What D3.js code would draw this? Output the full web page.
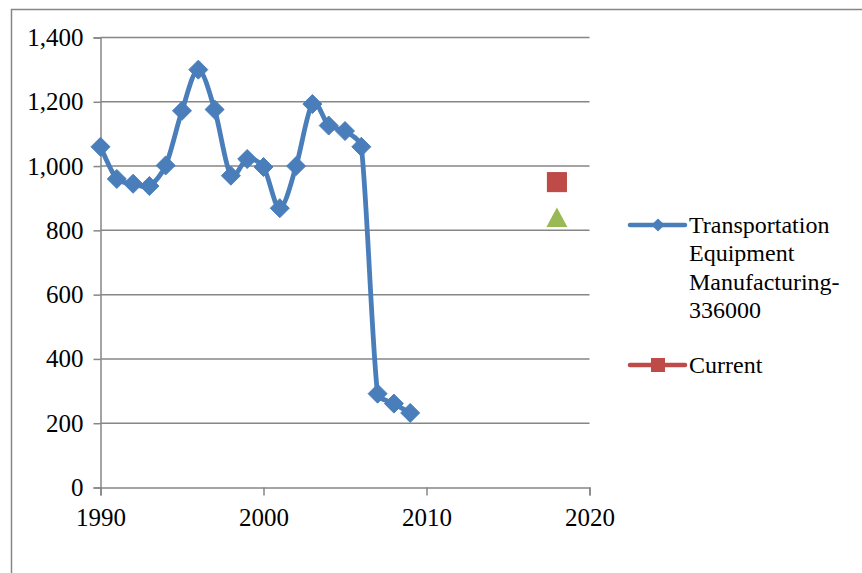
<!DOCTYPE html>
<html>
<head>
<meta charset="utf-8">
<script src="https://cdn.jsdelivr.net/npm/d3@7"></script>
<style>
  html, body { margin: 0; padding: 0; background: #fff; }
  svg { display: block; }
</style>
</head>
<body>
<svg id="chart" width="862" height="573"></svg>
<script>
// Annual employment series (index) and the current reference points
const years = [1990, 1991, 1992, 1993, 1994, 1995, 1996, 1997, 1998, 1999,
               2000, 2001, 2002, 2003, 2004, 2005, 2006, 2007, 2008, 2009];
const transportValues = [1060, 960, 945, 938, 1002, 1172, 1300, 1176, 970, 1022,
                         997, 869, 1000, 1193, 1126, 1109, 1060, 292, 261, 232];
const currentPoint = [{ year: 2018, value: 950 }];
const targetPoint = [{ year: 2018, value: 840 }];
const xTicks = [1990, 2000, 2010, 2020];
const yTicks = [0, 200, 400, 600, 800, 1000, 1200, 1400];
const legendLabels = [["Transportation", "Equipment", "Manufacturing-", "336000"], ["Current"]];

const FONT = "Liberation Serif";
const svg = d3.select("#chart");
const blue = "#4a7ebb", red = "#be4b48", green = "#98b954", grid = "#868686";

// Spreadsheet-style smoothing: Catmull-Rom Bezier handles, clamped so short
// segments next to long ones don't overshoot.
function curveSmoothClamped(context) {
  let pts;
  return {
    areaStart() {}, areaEnd() {},
    lineStart() { pts = []; },
    point(px, py) { pts.push([+px, +py]); },
    lineEnd() {
      const n = pts.length;
      if (!n) return;
      context.moveTo(pts[0][0], pts[0][1]);
      const clamp = (c, m) => {
        const l = Math.hypot(c[0], c[1]);
        return l > m ? [c[0] * m / l, c[1] * m / l] : c;
      };
      for (let i = 0; i < n - 1; i++) {
        const p0 = pts[Math.max(i - 1, 0)], p1 = pts[i], p2 = pts[i + 1], p3 = pts[Math.min(i + 2, n - 1)];
        const m = Math.hypot(p2[0] - p1[0], p2[1] - p1[1]) / 3;
        const h1 = clamp([(p2[0] - p0[0]) / 6, (p2[1] - p0[1]) / 6], m);
        const h2 = clamp([(p3[0] - p1[0]) / 6, (p3[1] - p1[1]) / 6], m);
        context.bezierCurveTo(p1[0] + h1[0], p1[1] + h1[1], p2[0] - h2[0], p2[1] - h2[1], p2[0], p2[1]);
      }
    }
  };
}

// Outer chart frame
svg.append("path")
  .attr("d", "M11.5,573 L11.5,9.5 L862,9.5")
  .attr("fill", "none").attr("stroke", grid).attr("stroke-width", 1.5);

const x = d3.scaleLinear().domain([1990, 2020]).range([100.5, 589.5]);
const y = d3.scaleLinear().domain([0, 1400]).range([487.5, 37.5]);

// Horizontal gridlines
svg.append("g").selectAll("line").data(yTicks.filter(t => t > 0)).join("line")
  .attr("x1", x(1990)).attr("x2", x(2020))
  .attr("y1", d => y(d)).attr("y2", d => y(d))
  .attr("stroke", grid).attr("stroke-width", 1.5);

// Y axis
const yAxis = svg.append("g").attr("transform", `translate(${x(1990)},0)`)
  .call(d3.axisLeft(y).tickValues(yTicks).tickFormat(d3.format(",")).tickSize(7).tickPadding(10));
// X axis
const xAxis = svg.append("g").attr("transform", `translate(0,${y(0)})`)
  .call(d3.axisBottom(x).tickValues(xTicks).tickFormat(d3.format("d")).tickSize(8).tickPadding(6));

[yAxis, xAxis].forEach(g => {
  g.attr("font-family", FONT).attr("font-size", 25);
  g.select(".domain").attr("stroke", grid).attr("stroke-width", 1.5);
  g.selectAll(".tick line").attr("stroke", grid).attr("stroke-width", 1.5);
  g.selectAll(".tick text").attr("font-family", FONT).attr("font-size", 25).attr("fill", "#000");
});
xAxis.selectAll(".tick text").attr("y", 38.5).attr("dy", 0);

// Smoothed series line
const series = years.map((yr, i) => ({ year: yr, value: transportValues[i] }));
const line = d3.line().x(d => x(d.year)).y(d => y(d.value)).curve(curveSmoothClamped);
svg.append("path").datum(series)
  .attr("d", line)
  .attr("fill", "none").attr("stroke", blue).attr("stroke-width", 4.8)
  .attr("stroke-linejoin", "round").attr("stroke-linecap", "round");

// Diamond markers
const diamond = d3.symbol().type(d3.symbolDiamond2).size(230);
svg.append("g").selectAll("path").data(series).join("path")
  .attr("transform", d => `translate(${x(d.year)},${y(d.value)})`)
  .attr("d", diamond).attr("fill", blue).attr("stroke", blue).attr("stroke-width", 1);

// Current point (square) and reference point (triangle)
svg.append("g").selectAll("rect").data(currentPoint).join("rect")
  .attr("x", d => x(d.year) - 9.5).attr("y", d => y(d.value) - 9.5)
  .attr("width", 19).attr("height", 19).attr("fill", red).attr("stroke", "#b84542").attr("stroke-width", 1);

svg.append("g").selectAll("path").data(targetPoint).join("path")
  .attr("transform", d => `translate(${x(d.year)},${y(d.value)})`)
  .attr("d", "M0,-10 L10.5,9.5 L-10.5,9.5 Z").attr("fill", green);

// Legend
const legend = svg.append("g").attr("font-family", FONT).attr("font-size", 24);
const lx1 = 630, lx2 = 685, ltx = 689;
legend.append("line").attr("x1", lx1).attr("x2", lx2).attr("y1", 225).attr("y2", 225)
  .attr("stroke", blue).attr("stroke-width", 4.5).attr("stroke-linecap", "round");
legend.append("path").attr("transform", "translate(658,225)")
  .attr("d", d3.symbol().type(d3.symbolDiamond2).size(110)).attr("fill", blue);
legend.append("line").attr("x1", lx1).attr("x2", lx2).attr("y1", 365).attr("y2", 365)
  .attr("stroke", red).attr("stroke-width", 4.5).attr("stroke-linecap", "round");
legend.append("rect").attr("x", 651).attr("y", 358).attr("width", 14).attr("height", 14).attr("fill", red);

const t1 = legend.append("text").attr("x", ltx).attr("y", 233).attr("fill", "#000");
legendLabels[0].forEach((s, i) => t1.append("tspan").attr("x", ltx).attr("dy", i === 0 ? 0 : 28.4).text(s));
legend.append("text").attr("x", ltx).attr("y", 373).attr("fill", "#000").text(legendLabels[1][0]);
</script>
</body>
</html>
